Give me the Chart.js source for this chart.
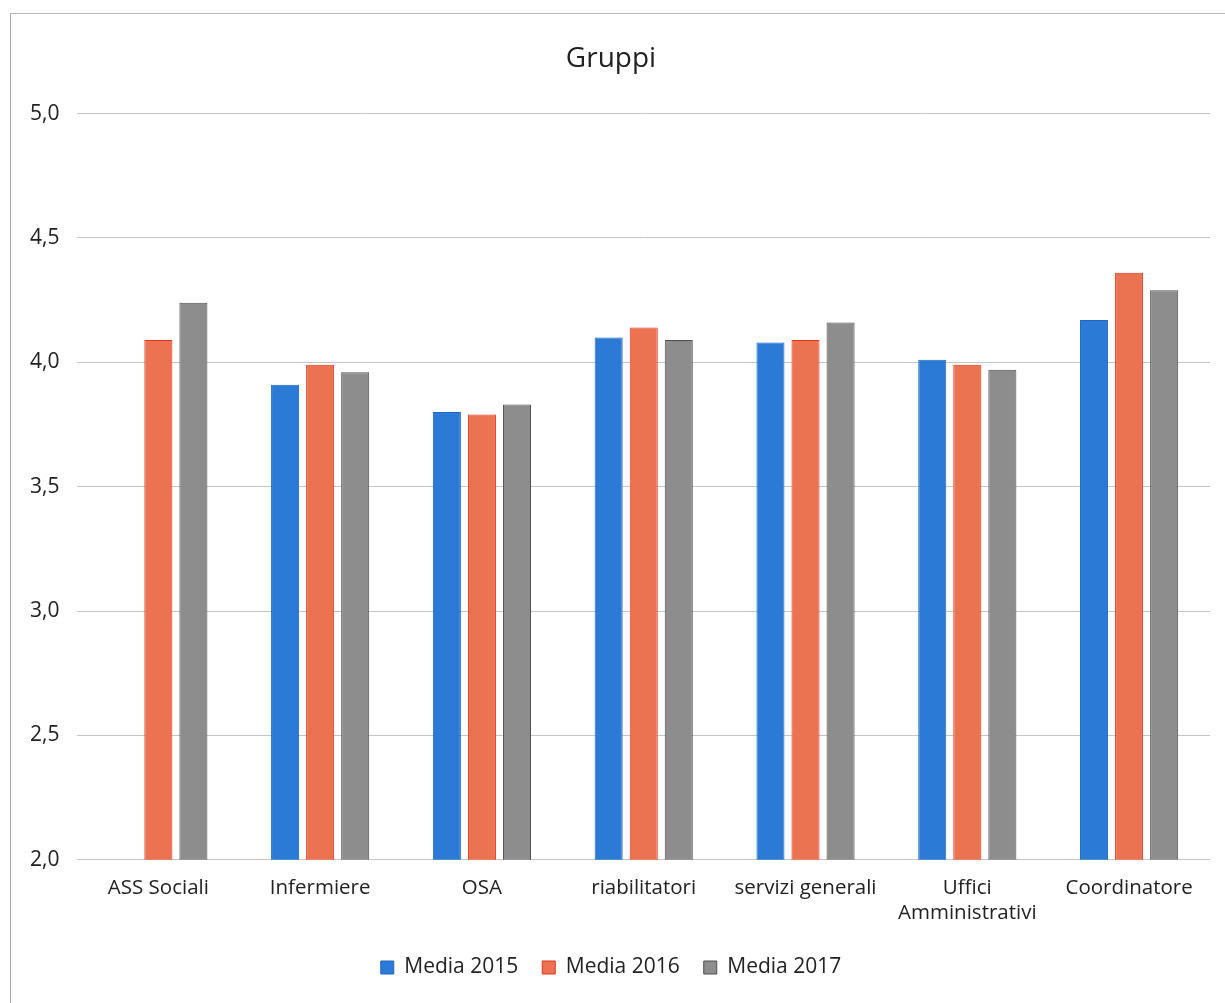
<!DOCTYPE html>
<html>
<head>
<meta charset="utf-8">
<script src="https://cdn.jsdelivr.net/npm/chart.js@4"></script>
<style>
  html, body { margin: 0; padding: 0; background: #fff; }
  #wrap { position: relative; width: 1225px; height: 1003px; }
  #frame { position: absolute; left: 10px; top: 13px; right: 0; bottom: 0;
           border-left: 1px solid #a8a8a8; border-top: 1px solid #b8b8b8; }
  canvas { position: absolute; left: 0; top: 0; }
</style>
</head>
<body>
<div id="wrap">
  <div id="frame"></div>
  <canvas id="barChart" width="1225" height="1003"></canvas>
</div>
<script>
// categorie e serie
var gruppi    = ['ASS Sociali', 'Infermiere', 'OSA', 'riabilitatori', 'servizi generali', ['Uffici', 'Amministrativi'], 'Coordinatore']
var media2015 = [null, 3.91, 3.80, 4.10, 4.08, 4.01, 4.17]
var media2016 = [4.09, 3.99, 3.79, 4.14, 4.09, 3.99, 4.36]
var media2017 = [4.24, 3.96, 3.83, 4.09, 4.16, 3.97, 4.29]
var yTicks    = [2.0, 2.5, 3.0, 3.5, 4.0, 4.5, 5.0]

var ctx = document.getElementById('barChart').getContext('2d')
var font = "'Open Sans', 'Noto Sans', sans-serif"

new Chart(ctx, {
  type: 'bar',
  data: {
    labels: gruppi,
    datasets: [
      { label: 'Media 2015', data: media2015, backgroundColor: '#2b7bd6', borderColor: '#2266bd', borderWidth: 1 },
      { label: 'Media 2016', data: media2016, backgroundColor: '#ec7352', borderColor: '#e2321c', borderWidth: 1 },
      { label: 'Media 2017', data: media2017, backgroundColor: '#8d8d8d', borderColor: '#4f4f4f', borderWidth: 1 }
    ]
  },
  options: {
    responsive: false,
    animation: false,
    layout: { padding: { left: 12, right: 15, top: 42, bottom: 15 } },
    datasets: { bar: { categoryPercentage: 0.65, barPercentage: 0.8 } },
    plugins: {
      title: {
        display: true,
        text: 'Gruppi',
        color: '#222',
        font: { family: font, size: 28, weight: 'normal' },
        padding: { top: 0, bottom: 38 }
      },
      legend: {
        position: 'bottom',
        labels: {
          color: '#222',
          font: { family: font, size: 21 },
          boxWidth: 13,
          boxHeight: 13,
          padding: 24
        }
      },
      tooltip: { enabled: false }
    },
    scales: {
      x: {
        grid: { display: false },
        border: { display: false },
        ticks: { color: '#222', font: { family: font, size: 20.5 }, maxRotation: 0, padding: 8 }
      },
      y: {
        min: 2,
        max: 5,
        afterBuildTicks: function (axis) {
          axis.ticks = yTicks.map(function (v) { return { value: v } })
        },
        grid: { color: '#c4c4c4', drawTicks: false },
        border: { display: false },
        ticks: {
          color: '#222',
          font: { family: font, size: 21 },
          padding: 18,
          callback: function (v) { return v.toFixed(1).replace('.', ',') }
        }
      }
    }
  }
})
</script>
</body>
</html>
